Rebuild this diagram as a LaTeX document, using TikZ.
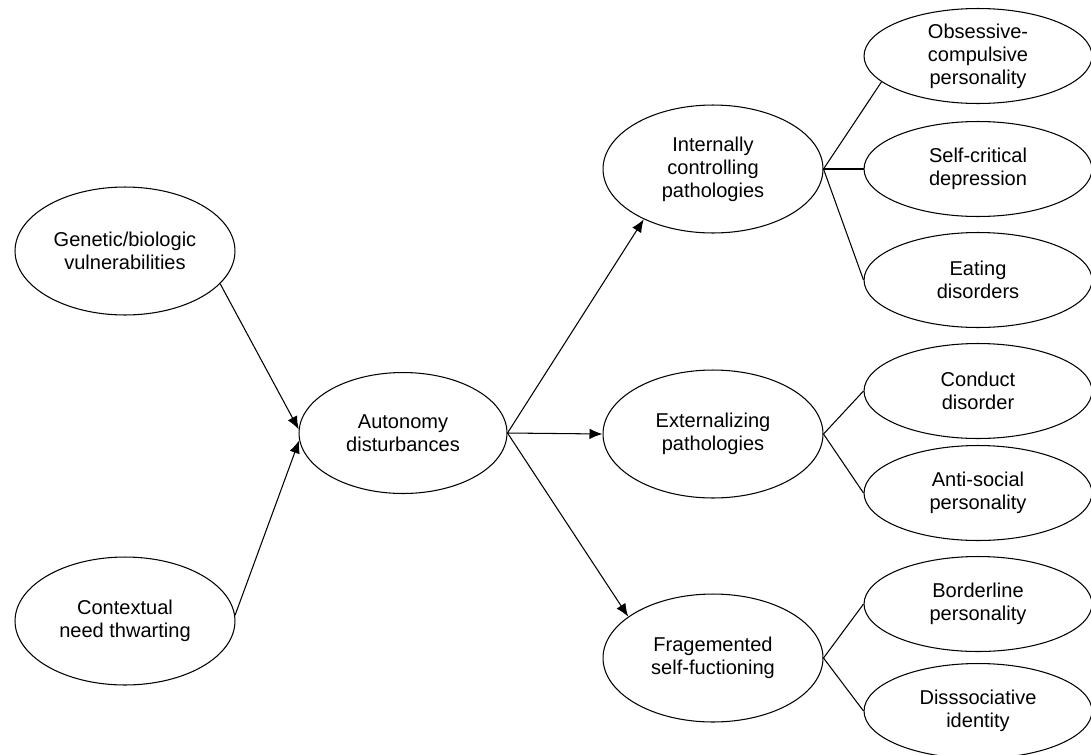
\documentclass[tikz,border=0pt]{standalone}
\usepackage{fontspec}
\setmainfont{Liberation Sans}
\usetikzlibrary{shapes.geometric,arrows.meta}
\begin{document}
\begin{tikzpicture}[x=0.02cm, y=-0.02cm, line width=0.6pt, >={Latex[length=2.6mm,width=2.1mm]},
  main/.style = {draw, ellipse, inner sep=0pt, align=center, font=\fontsize{11.4}{13.1}\selectfont, minimum width=4.4cm, minimum height=2.56cm},
  sub/.style = {main, minimum width=4.56cm, minimum height=1.9cm}]
\useasboundingbox (0,0) rectangle (1091,754);
\node[main] (gen) at (125,251) {Genetic/biologic\\vulnerabilities};
\node[main] (ctx) at (125,621) {Contextual\\need thwarting};
\node[main, minimum width=4.16cm, minimum height=2.42cm] (aut) at (403,433) {Autonomy\\disturbances};
\node[main] (int) at (713,169) {Internally\\controlling\\pathologies};
\node[main] (ext) at (713,434) {Externalizing\\pathologies};
\node[main] (frag) at (713,658) {Fragemented\\self-fuctioning};
\node[sub] (obs) at (978,56) {Obsessive-\\compulsive\\personality};
\node[sub] (crit) at (978,169) {Self-critical\\depression};
\node[sub] (eat) at (978,280) {Eating\\disorders};
\node[sub] (cond) at (978,391) {Conduct\\disorder};
\node[sub] (anti) at (978,493) {Anti-social\\personality};
\node[sub] (bord) at (978,604) {Borderline\\personality};
\node[sub] (diss) at (978,711) {Disssociative\\identity};
\draw[->] (gen.341) -- (aut.178);
\draw[->] (ctx.3) -- (aut.184);
\draw[->] (aut.east) -- (int.216);
\draw[->] (aut.east) -- (ext.west);
\draw[->] (aut.east) -- (frag.154);
\draw (int.east) -- (obs.195);
\draw (int.east) -- (crit.west);
\draw (int.east) -- (eat.west);
\draw (ext.east) -- (cond.west);
\draw (ext.east) -- (anti.west);
\draw (frag.east) -- (bord.west);
\draw (frag.east) -- (diss.west);
\end{tikzpicture}
\end{document}
